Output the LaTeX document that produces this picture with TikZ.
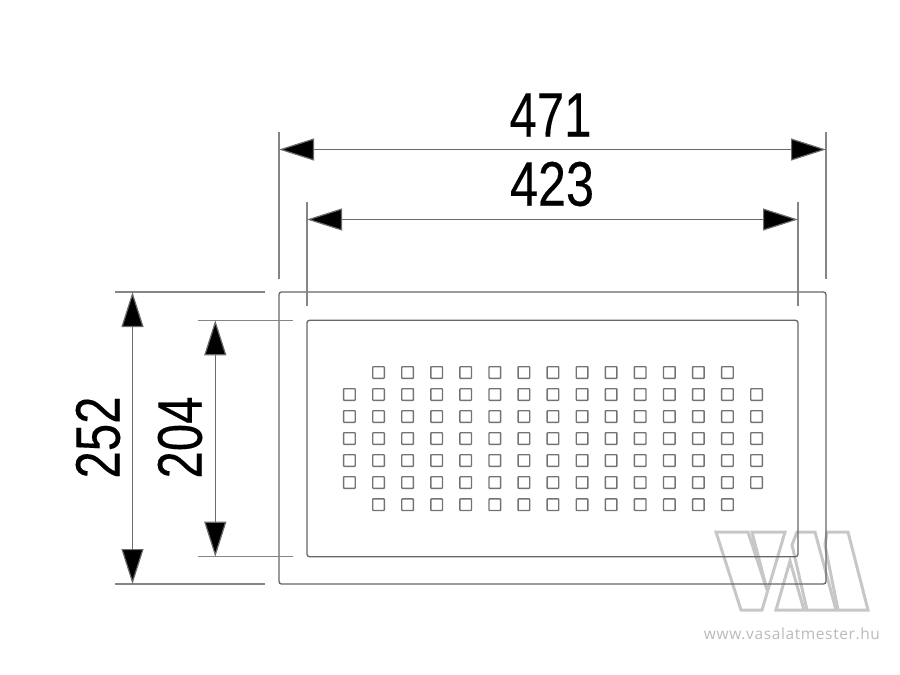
\documentclass[tikz,border=0pt]{standalone}
\usepackage{fontspec}
\setmainfont{Liberation Sans}
\newfontfamily\dimfont[FakeBold=0.25]{Liberation Sans}
\newfontfamily\markfont[LetterSpace=4]{Open Sans}
\usetikzlibrary{calc, arrows.meta}
\tikzset{
    plate box/.style = {rectangle, rounded corners=2.5pt, draw=black!60, line width=1.3pt, inner sep=0pt, outer sep=0pt},
    hole box/.style = {rectangle, rounded corners=.6pt, draw=black!55, line width=1.4pt, minimum size=11.6pt, inner sep=0pt, outer sep=0pt},
    dim line/.style = {draw=black!58, line width=1.2pt, {Triangle[length=35pt,width=22pt,fill=black]}-{Triangle[length=35pt,width=22pt,fill=black]}},
    ext line/.style = {draw=black!48, line width=1.1pt},
    dim label/.style = {inner sep=0pt, font=\dimfont\fontsize{63}{63}\selectfont},
    mark line/.style = {draw=black!22, line width=3pt, line join=miter}
}
\begin{document}
\begin{tikzpicture}[x=1pt, y=-1pt]
        \useasboundingbox (0,0) rectangle (900,675);

        \draw[mark line] (716,532) -- (748,532) -- (767,590) -- (752,532) -- (785,532) -- (762,610) -- (741,610) -- cycle;
        \draw[mark line] (790,561) -- (776,610) -- (804,610) -- cycle;
        \draw[mark line] (797,532) -- (815,532) -- (836,610) -- (807,610) -- (792,545) -- cycle;
        \draw[mark line] (827,532) -- (848,532) -- (868,610) -- (838,610) -- (825,545) -- cycle;
        \node[inner sep=0pt, text=black!27, font=\markfont\fontsize{15.5}{15.5}\selectfont] (marktext) at (792,634) {www.vasalatmester.hu};

        \node[plate box, minimum width=547pt, minimum height=292pt] (outer) at (552.5,438) {};
        \node[plate box, minimum width=491pt, minimum height=236.4pt] (inner) at (552.5,438.5) {};

        \foreach \row in {372.5,504.7}
            \foreach \col in {0,...,12}
                \node[hole box] (hole-\row-\col) at ({378.5+29.08*\col},\row) {};
        \foreach \row in {394.5,416.5,438.5,460.5,482.5}
            \foreach \col in {-1,...,13}
                \node[hole box] (hole-\row-\col) at ({378.5+29.08*\col},\row) {};

        \coordinate (widetop) at (outer.west |- 0,132);
        \coordinate (widebot) at (outer.west |- 0,279);
        \coordinate (widetopr) at (outer.east |- 0,132);
        \coordinate (widebotr) at (outer.east |- 0,279);
        \coordinate (widedim) at (outer.west |- 0,149.5);
        \coordinate (widedimr) at (outer.east |- 0,149.5);
        \coordinate (opentop) at (inner.west |- 0,202);
        \coordinate (openbot) at (inner.west |- 0,306);
        \coordinate (opentopr) at (inner.east |- 0,202);
        \coordinate (openbotr) at (inner.east |- 0,306);
        \coordinate (opendim) at (inner.west |- 0,219.5);
        \coordinate (opendimr) at (inner.east |- 0,219.5);
        \coordinate (talla) at (115,292);
        \coordinate (tallb) at (265,292);
        \coordinate (tallc) at (115,584);
        \coordinate (talld) at (265,584);
        \coordinate (talldim) at (132.5,292);
        \coordinate (talldimb) at (132.5,584);
        \coordinate (shorta) at (198,320.3);
        \coordinate (shortb) at (293,320.3);
        \coordinate (shortc) at (198,556.7);
        \coordinate (shortd) at (293,556.7);
        \coordinate (shortdim) at (215.3,320.3);
        \coordinate (shortdimb) at (215.3,556.7);

        \draw[ext line] (widetop) -- (widebot);
        \draw[ext line] (widetopr) -- (widebotr);
        \draw[ext line] (opentop) -- (openbot);
        \draw[ext line] (opentopr) -- (openbotr);
        \draw[ext line] (talla) -- (tallb);
        \draw[ext line] (tallc) -- (talld);
        \draw[ext line] (shorta) -- (shortb);
        \draw[ext line] (shortc) -- (shortd);

        \draw[dim line] (widedim) -- (widedimr);
        \draw[dim line] (opendim) -- (opendimr);
        \draw[dim line] (talldim) -- (talldimb);
        \draw[dim line] (shortdim) -- (shortdimb);

        \node[dim label] (widelabel) at (550.5,115) {\scalebox{.78}[1]{471}};
        \node[dim label] (openlabel) at (552,184) {\scalebox{.8}[1]{423}};
        \node[dim label, rotate=90] (talllabel) at (98,437.5) {\scalebox{.78}[1]{252}};
        \node[dim label, rotate=90] (shortlabel) at (180,437.5) {\scalebox{.78}[1]{204}};
    \end{tikzpicture}
\end{document}
